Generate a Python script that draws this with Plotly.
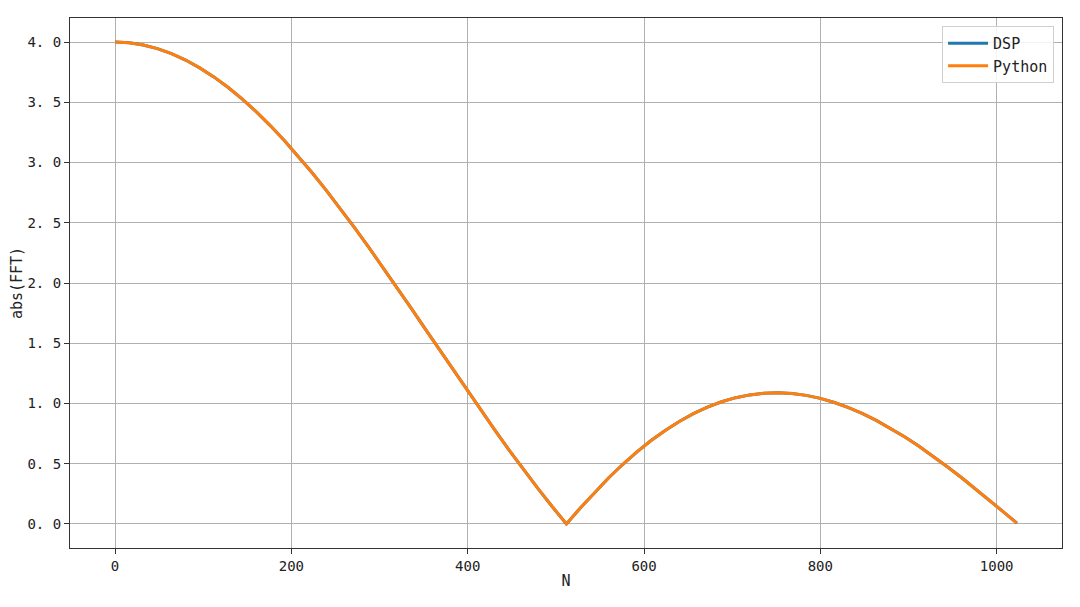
import plotly.graph_objects as go

# FFT bins (every 16th bin) and |FFT| values
n_bins = [0, 16, 32, 48, 64, 80, 96, 112, 128, 144, 160, 176, 192, 208, 224, 240,
          256, 272, 288, 304, 320, 336, 352, 368, 384, 400, 416, 432, 448, 464, 480, 496,
          512, 528, 544, 560, 576, 592, 608, 624, 640, 656, 672, 688, 704, 720, 736, 752,
          768, 784, 800, 816, 832, 848, 864, 880, 896, 912, 928, 944, 960, 976, 992, 1008,
          1023]
dsp_abs = [4.000, 3.994, 3.976, 3.946, 3.904, 3.851, 3.786, 3.711, 3.625, 3.528, 3.422,
           3.307, 3.183, 3.051, 2.911, 2.765, 2.613, 2.456, 2.294, 2.128, 1.960, 1.789,
           1.617, 1.445, 1.273, 1.102, 0.933, 0.766, 0.603, 0.444, 0.291, 0.142, 0.000,
           0.135, 0.263, 0.383, 0.495, 0.598, 0.692, 0.776, 0.850, 0.915, 0.969, 1.014,
           1.048, 1.071, 1.085, 1.089, 1.082, 1.067, 1.042, 1.008, 0.965, 0.915, 0.857,
           0.792, 0.721, 0.644, 0.562, 0.475, 0.385, 0.292, 0.195, 0.098, 0.006]
python_abs = [4.000, 3.994, 3.976, 3.946, 3.904, 3.851, 3.786, 3.711, 3.625, 3.528, 3.422,
              3.307, 3.183, 3.051, 2.911, 2.765, 2.613, 2.456, 2.294, 2.128, 1.960, 1.789,
              1.617, 1.445, 1.273, 1.102, 0.933, 0.766, 0.603, 0.444, 0.291, 0.142, 0.000,
              0.135, 0.263, 0.383, 0.495, 0.598, 0.692, 0.776, 0.850, 0.915, 0.969, 1.014,
              1.048, 1.071, 1.085, 1.089, 1.082, 1.067, 1.042, 1.008, 0.965, 0.915, 0.857,
              0.792, 0.721, 0.644, 0.562, 0.475, 0.385, 0.292, 0.195, 0.098, 0.006]

x_ticks = [0, 200, 400, 600, 800, 1000]
y_ticks = [0.0, 0.5, 1.0, 1.5, 2.0, 2.5, 3.0, 3.5, 4.0]
y_tick_text = ['0. 0', '0. 5', '1. 0', '1. 5', '2. 0', '2. 5', '3. 0', '3. 5', '4. 0']

font_name = 'DejaVu Sans Mono'

fig = go.Figure()

fig.add_trace(go.Scatter(
    x=n_bins, y=dsp_abs, name='DSP', mode='lines',
    line=dict(color='#1f77b4', width=3)
))
fig.add_trace(go.Scatter(
    x=n_bins, y=python_abs, name='Python', mode='lines',
    line=dict(color='#ff7f0e', width=3)
))

axis_common = dict(
    showgrid=True, gridcolor='#b0b0b0', gridwidth=1,
    showline=True, linecolor='#333333', linewidth=1.2, mirror=True,
    ticks='outside', ticklen=5, tickcolor='#333333',
    tickfont=dict(family=font_name, size=14, color='#222222'),
    zeroline=False, automargin=False,
)

# page body adds an 8px offset, margins account for it
fig.update_layout(
    width=1080, height=607,
    paper_bgcolor='white', plot_bgcolor='white',
    margin=dict(l=62, r=26, t=10, b=67),
    font=dict(family=font_name, size=14, color='#222222'),
    showlegend=True,
    legend=dict(
        x=0.992, y=0.985, xanchor='right', yanchor='top',
        bgcolor='rgba(255,255,255,0.85)', bordercolor='#d0d0d0', borderwidth=1,
        font=dict(family=font_name, size=15, color='#222222'),
        itemwidth=40,
    ),
    xaxis=dict(axis_common, range=[-51.15, 1074.15], tickvals=x_ticks,
               title=dict(text='N', standoff=2,
                          font=dict(family=font_name, size=15))),
    yaxis=dict(axis_common, range=[-0.2, 4.2], tickvals=y_ticks, ticktext=y_tick_text,
               title=dict(text='abs(FFT)', standoff=2,
                          font=dict(family=font_name, size=15))),
)

fig.write_html("out.html")
